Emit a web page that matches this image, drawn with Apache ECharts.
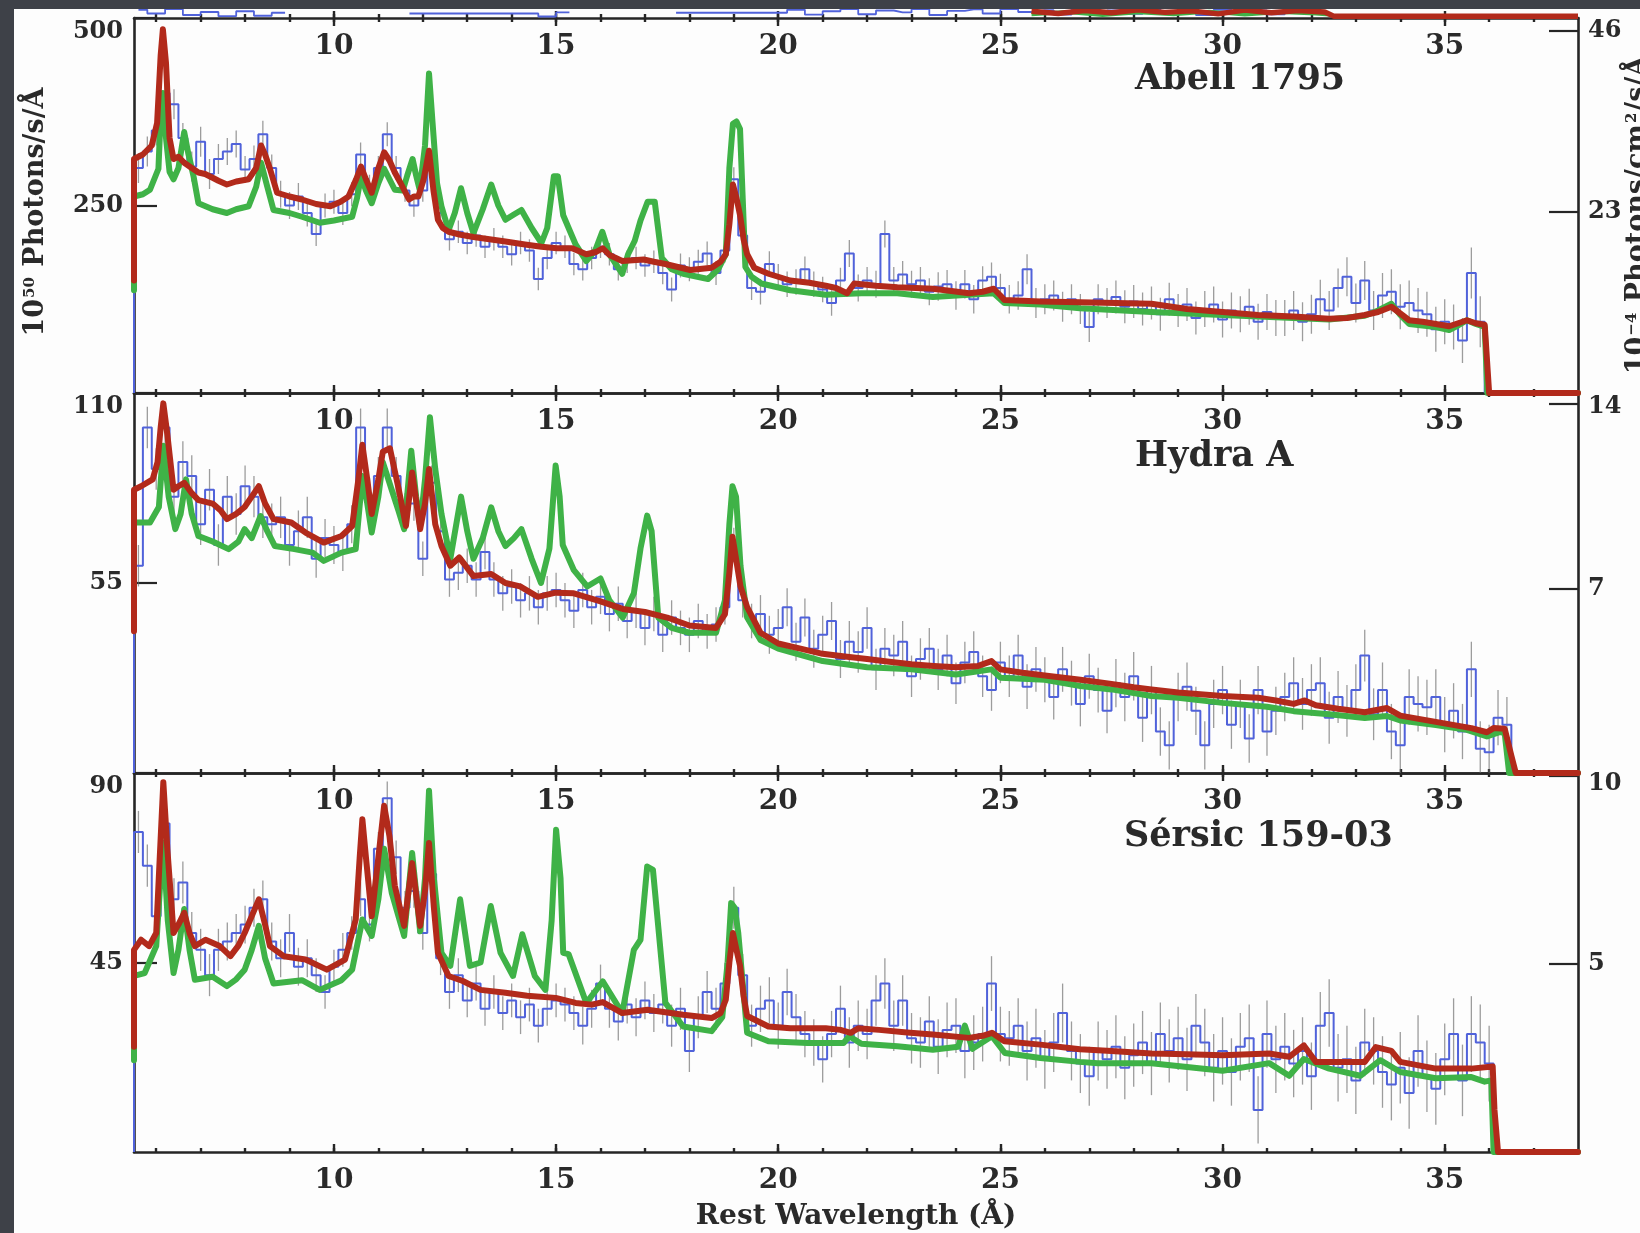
<!DOCTYPE html>
<html><head><meta charset="utf-8">
<script src="https://cdn.jsdelivr.net/npm/echarts/dist/echarts.min.js"></script>
<style>html,body{margin:0;padding:0;background:#3e4148;}#c{width:1640px;height:1233px;}</style>
</head><body><div id="c"></div>
<script>
// ---------------- DATA ----------------
const XMIN = 5.5, XMAX = 38;
const majorTicks = [10, 15, 20, 25, 30, 35];
const minorTicks = [6,7,8,9,10,11,12,13,14,15,16,17,18,19,20,21,22,23,24,25,26,27,28,29,30,31,32,33,34,35,36,37];
const BIN_START = 5.6, BIN_WIDTH = 0.2, ERR_SEG = 2;

// axis ranges / tick labels
const abellLeftMax = 500, abellLeftTicks = [250, 500], abellRightMax = 47.6, abellRightTicks = [23, 46];
const hydraLeftMax = 110, hydraLeftTicks = [55, 110], hydraRightMax = 14.4, hydraRightTicks = [7, 14];
const sersicLeftMax = 90, sersicLeftTicks = [45, 90], sersicRightMax = 10.06, sersicRightTicks = [5, 10];

// ---- Abell 1795 ----
const abellRed = [[5.5,150],[5.5,312],[5.7,318],[5.9,330],[6.02,360],[6.1,450],[6.15,485],[6.22,440],[6.3,340],[6.39,312],[6.5,315],[6.63,307],[6.8,300],[6.95,294],[7.1,292],[7.27,287],[7.4,283],[7.59,278],[7.8,282],[8.08,285],[8.25,300],[8.36,330],[8.45,318],[8.56,299],[8.72,267],[9.0,262],[9.28,258],[9.6,252],[9.92,249],[10.15,255],[10.33,262],[10.5,285],[10.61,302],[10.72,285],[10.85,267],[11.0,300],[11.13,321],[11.25,310],[11.37,294],[11.5,280],[11.69,258],[11.8,262],[11.9,262],[12.02,285],[12.14,323],[12.24,270],[12.34,231],[12.45,220],[12.58,215],[12.85,211],[13.14,208],[13.5,205],[13.86,202],[14.3,198],[14.67,195],[15.02,193],[15.36,193],[15.68,185],[15.9,188],[16.05,193],[16.2,184],[16.49,176],[16.97,178],[17.2,175],[17.46,172],[18.02,164],[18.5,167],[18.7,175],[18.82,185],[18.9,225],[18.98,278],[19.06,260],[19.14,237],[19.22,205],[19.3,185],[19.46,167],[19.78,159],[20.27,150],[20.7,147],[21.07,143],[21.3,140],[21.55,133],[21.71,146],[22.2,143],[22.68,141],[23.1,140],[23.48,139],[23.9,136],[24.29,133],[24.6,135],[24.85,139],[25.0,130],[25.09,124],[25.5,123],[25.9,122],[26.79,121],[27.6,120],[28.4,119],[29.2,112],[30.0,108],[30.8,104],[31.6,102],[32.4,99],[32.8,100],[33.2,104],[33.5,108],[33.8,115],[34.0,106],[34.2,97],[34.5,95],[34.8,92],[35.1,89],[35.3,93],[35.5,97],[35.7,93],[35.9,91],[36.0,0],[38,0]];
const abellGreen = [[5.5,137],[5.5,262],[5.7,265],[5.86,271],[6.05,299],[6.1,370],[6.15,400],[6.22,340],[6.3,295],[6.39,285],[6.5,300],[6.63,348],[6.72,320],[6.84,289],[6.95,253],[7.27,245],[7.59,240],[7.8,245],[8.08,249],[8.25,275],[8.36,307],[8.5,275],[8.64,244],[9.0,240],[9.28,235],[9.68,227],[10.0,230],[10.41,235],[10.52,260],[10.61,289],[10.72,270],[10.85,253],[11.0,280],[11.13,299],[11.25,285],[11.37,271],[11.55,270],[11.65,290],[11.77,312],[11.85,290],[11.93,271],[12.05,330],[12.14,426],[12.22,360],[12.32,280],[12.42,249],[12.58,217],[12.72,240],[12.86,273],[13.0,240],[13.14,213],[13.35,245],[13.54,278],[13.7,250],[13.86,231],[14.05,238],[14.22,244],[14.45,220],[14.67,200],[14.8,220],[14.95,289],[15.04,289],[15.16,237],[15.44,198],[15.68,176],[15.88,190],[16.04,215],[16.2,185],[16.49,159],[16.62,185],[16.77,203],[16.9,230],[17.06,255],[17.22,255],[17.38,180],[17.6,165],[17.86,159],[18.42,152],[18.65,165],[18.82,185],[18.9,300],[18.98,359],[19.06,362],[19.14,352],[19.2,260],[19.26,168],[19.4,155],[19.62,146],[20.27,137],[21.07,131],[21.87,133],[22.68,133],[23.48,128],[24.29,131],[24.85,133],[25.09,120],[25.9,118],[26.79,113],[28.4,108],[30.0,104],[31.6,100],[32.4,98],[33.2,103],[33.5,110],[33.8,119],[34.0,104],[34.2,92],[34.8,88],[35.1,84],[35.3,90],[35.5,97],[35.7,92],[35.9,88],[35.96,0],[38,0]];
const abellBlue = [
  300,322,350,400,385,  340,302,335,292,312,  322,332,298,312,345,  300,265,250,262,240,
  212,250,255,240,265,  318,275,300,345,300,  270,250,270,300,240,  205,215,200,210,195,
  205,195,185,200,190,  152,180,200,195,172,  165,180,195,185,165,  175,180,170,175,160,
  138,170,165,175,186,  160,190,285,210,140,  135,172,155,145,148,  165,145,138,120,150,
  186,140,150,145,212,  150,158,145,150,135,  142,145,130,145,125,  150,155,140,125,130,
  165,120,125,130,115,  125,112,88,125,120,   128,115,122,112,120,  105,125,110,118,100,
  112,118,98,110,105,   115,95,108,100,100,   110,95,105,125,110,   140,155,120,150,110,
  130,135,115,120,110,  105,85,95,88,70,      160,95];
const abellErr = [20,18,16,15,15,15,16,17,18,19,20,22,24,26,30,34];

// ---- Hydra A ----
const hydraRed = [[5.5,41],[5.5,82],[5.66,83],[5.92,85],[6.03,90],[6.1,100],[6.16,107],[6.25,98],[6.39,82],[6.5,83],[6.63,84],[6.8,81],[6.95,79],[7.27,78],[7.45,76],[7.59,73.5],[7.8,75],[7.99,77],[8.15,80],[8.31,83],[8.45,78],[8.64,73.5],[9.04,72.5],[9.36,69.6],[9.77,66.7],[10.17,68.6],[10.41,71.5],[10.55,85],[10.64,95],[10.75,85],[10.85,75],[11.0,85],[11.1,93],[11.26,94],[11.46,82],[11.62,71.5],[11.76,87],[11.94,70.6],[12.05,78],[12.14,88],[12.28,72],[12.42,65.7],[12.62,60],[12.82,62.4],[13.14,57],[13.54,57.6],[13.86,55],[14.19,54],[14.59,51],[14.99,52.2],[15.4,52],[16.0,49.7],[16.5,47.5],[17.0,46.6],[17.5,45],[18.0,42.7],[18.6,42],[18.8,46],[18.9,58],[18.97,68.4],[19.05,62],[19.15,54],[19.3,48],[19.6,40.6],[20.0,37.5],[20.5,36],[21.0,34.5],[21.5,33.7],[22.0,33],[22.5,32.2],[23.0,31.5],[23.5,31],[24.0,30.6],[24.5,31],[24.8,32.4],[25.0,30],[25.5,29],[26.0,28.2],[26.8,27],[27.5,25.8],[28.0,24.8],[28.4,24.2],[29.0,23.3],[30.0,22.3],[30.8,21.8],[31.2,21],[31.6,20],[31.85,21],[32.1,19.6],[32.6,18.6],[33.2,17.6],[33.7,18.8],[34.0,16.6],[34.8,14.8],[35.6,13],[35.95,11.8],[36.1,13],[36.35,12.8],[36.5,5],[36.6,0],[38,0]];
const hydraGreen = [[5.5,60],[5.5,72.5],[5.86,72.5],[6.06,77],[6.16,94.7],[6.28,80],[6.43,70.6],[6.55,75],[6.67,85],[6.8,75],[6.95,68.6],[7.27,67],[7.63,64.8],[7.85,67],[7.99,70.6],[8.15,68],[8.35,74.4],[8.5,70],[8.67,65.7],[9.11,64.8],[9.52,63.8],[9.77,61.4],[10.17,63.8],[10.49,64.8],[10.64,86],[10.75,78],[10.85,69.6],[11.0,80],[11.1,90],[11.3,82],[11.45,76],[11.58,70.6],[11.74,93.3],[11.85,80],[11.94,71.5],[12.05,85],[12.16,103],[12.28,88],[12.42,75],[12.62,62],[12.86,80],[13.0,70],[13.14,62],[13.35,68],[13.54,76.9],[13.7,70],[13.86,65.7],[14.05,68],[14.22,70.6],[14.45,62],[14.66,55],[14.85,65],[14.99,89],[15.08,80],[15.15,66],[15.4,58.7],[15.7,54],[16.0,56.3],[16.2,50],[16.5,45],[16.75,52],[16.9,65],[17.05,74.5],[17.15,70],[17.3,45],[17.6,42],[18.0,40.6],[18.6,40.6],[18.8,50],[18.9,72],[18.97,83],[19.05,80],[19.15,60],[19.3,45],[19.6,38.5],[20.0,36],[21.0,32.4],[22.0,30.6],[23.0,30],[24.0,28.5],[24.8,30],[25.0,27.6],[26.0,27],[26.8,25.2],[27.5,24.2],[28.4,22.3],[29.0,21.8],[30.0,20.3],[31.0,19.2],[31.6,17.9],[32.4,17],[33.2,15.9],[33.7,16.5],[34.0,15.2],[34.8,13.9],[35.5,12.5],[35.95,10.6],[36.25,11.9],[36.35,11.5],[36.45,0],[38,0]];
const hydraBlue = [
  60,100,88,100,80,  90,86,72,82,66,  80,75,83,80,74,  72,74,66,70,74,
  62,68,66,64,72,    100,80,86,100,86, 76,78,62,84,70, 56,58,60,56,64,
  56,52,54,50,52,    48,52,53,50,47,  53,48,51,46,49,  44,47,42,46,40,
  45,42,40,44,41,    43,48,66,50,44,  46,40,42,48,38,  45,36,40,44,33,
  38,35,42,30,36,    34,38,28,33,36,  30,34,26,32,35,  28,24,32,28,34,
  25,30,27,22,30,    26,20,28,24,18,  26,22,28,16,24,  12,8,22,25,18,
  8,20,24,14,20,     10,24,12,18,22,  26,20,24,26,16,  22,18,24,34,17,
  24,12,8,22,20,     19,22,14,18,12,  30,7,6,16,14];
const hydraErr = [6,6,5.5,5,5,5,5,5.5,6,6,6.5,7,7,7.5,8,8];

// ---- Sersic 159-03 ----
const sersicRed = [[5.5,25],[5.5,48],[5.66,50.4],[5.84,48.9],[6.0,52],[6.08,70],[6.16,87.8],[6.25,72],[6.39,52],[6.5,54],[6.63,56.8],[6.75,52],[6.87,48.9],[7.11,50.4],[7.43,48.9],[7.67,46.5],[7.85,49],[7.99,52],[8.15,56],[8.31,60],[8.45,54],[8.56,48.9],[8.87,46.5],[9.36,45.7],[9.84,43.3],[10.25,45.7],[10.49,55.2],[10.58,70],[10.64,79],[10.72,70],[10.85,56],[11.0,70],[11.13,82.2],[11.25,75],[11.37,63.2],[11.58,53.7],[11.76,68.6],[11.94,53.7],[12.05,62],[12.14,73.4],[12.25,58],[12.34,47.3],[12.58,41.8],[12.9,40.6],[13.3,38.5],[13.86,37.8],[14.35,37.1],[14.99,36.6],[15.44,35.4],[15.8,35],[16.05,35.6],[16.49,33],[17.06,33.8],[17.86,32.6],[18.5,31.8],[18.7,33],[18.82,36.2],[18.9,45],[18.98,52],[19.06,48],[19.14,44.2],[19.22,37],[19.3,32.3],[19.78,29.8],[20.27,29.4],[21.07,29.4],[21.4,29],[21.63,28.3],[21.8,29.4],[22.27,29],[22.9,28.4],[23.48,27.9],[24.29,27.1],[24.6,27.6],[24.81,28.3],[25.09,26.3],[25.9,25.5],[26.79,24.4],[27.5,24],[28.4,23.4],[29.2,23.2],[30.0,23.0],[31.05,23.4],[31.5,22.6],[31.83,25.3],[32.1,21.4],[33.2,21.4],[33.45,24.9],[33.8,24],[34.0,21.4],[34.8,19.8],[35.6,19.8],[36.08,20.3],[36.12,10],[36.2,0],[38,0]];
const sersicGreen = [[5.5,21.8],[5.5,41.8],[5.74,42.5],[6.0,48.9],[6.08,62],[6.16,73.5],[6.26,55],[6.39,42.5],[6.5,48],[6.63,57.7],[6.75,48],[6.87,40.9],[7.27,41.6],[7.59,39.4],[7.8,41],[7.99,43.3],[8.15,48],[8.31,53.7],[8.45,46],[8.64,40],[9.28,40.8],[9.68,38.5],[10.17,40.8],[10.41,43.3],[10.64,55.2],[10.85,51.3],[11.0,60],[11.13,72],[11.3,61.6],[11.58,51.3],[11.76,71],[11.94,52.4],[12.05,65],[12.14,85.8],[12.25,65],[12.42,47.3],[12.62,44.2],[12.84,60],[13.06,44.2],[13.3,45],[13.53,58.4],[13.75,47.3],[14.03,41.8],[14.24,51.7],[14.52,41.8],[14.76,38.5],[14.9,55],[15.0,76.5],[15.1,65],[15.16,47.3],[15.28,47],[15.68,35.4],[16.05,40.5],[16.49,33],[16.75,48],[16.9,50.4],[17.05,67.8],[17.18,67],[17.46,35.4],[17.86,29.8],[18.5,28.7],[18.74,32],[18.86,45],[18.94,59.1],[19.02,58],[19.1,52],[19.3,28.3],[19.78,26.3],[20.66,25.9],[21.47,25.9],[21.6,27.5],[21.87,25.7],[22.68,25.1],[23.48,24.3],[24.05,25],[24.2,30],[24.37,24.5],[24.81,27.5],[25.1,23.5],[25.9,22.3],[26.79,21.4],[27.19,21.1],[28.4,21.1],[30.0,19.3],[31.05,21.1],[31.5,18.1],[31.83,22.1],[32.4,19.8],[33.1,18.1],[33.55,21.8],[34.0,19],[34.8,17.5],[35.6,17.8],[35.9,16.7],[36.05,17],[36.1,0],[38,0]];
const sersicBlue = [
  76,68,56,78,60,  64,52,48,42,48,  50,52,54,58,60,  50,46,52,44,46,
  42,38,44,48,52,  60,54,72,84,70,  58,62,52,66,46,  38,42,36,40,34,
  38,33,36,32,35,  30,34,36,35,33,  30,34,40,34,31,  35,32,36,33,35,
  30,34,24,32,38,  34,40,58,42,30,  34,36,30,38,32,  28,26,22,28,34,
  26,30,28,36,40,  30,36,27,26,31,  25,29,30,24,26,  28,40,28,27,30,
  24,27,22,26,33,  24,21,18,24,22,  25,20,23,26,21,  28,24,27,22,30,
  26,20,24,19,25,  27,10,28,22,25,  21,24,18,30,33,  20,22,17,26,24,
  19,16,20,14,24,  18,15,22,28,17,  28,26,21];
const sersicErr = [5,4.5,4,4,4,4.5,5,5.5,6,6.5,7,7.5,8,8,8.5,9];

// ---- bottom edge of a panel above, cut off by the slide edge (values = height above the top frame) ----
const ghostRed = [[25.7,1.8],[26.3,1.2],[26.9,2.0],[27.5,1.4],[28.1,2.2],[28.7,1.5],[29.3,1.9],[29.9,1.1],[30.5,2.1],[31.1,1.4],[31.7,2.0],[32.3,1.6],[32.5,0.5],[38,0.5]];
const ghostGreen = [[25.7,1.0],[26.5,1.6],[27.3,0.8],[28.1,1.5],[28.9,1.0],[29.7,1.7],[30.5,0.9],[31.3,1.6],[32.1,1.2],[32.4,0.9]];
const ghostBlue = [[5.6,2.2],[6.0,1.2],[6.4,2.4],[6.8,0.8],[7.2,1.6],[7.6,0.5],[8.0,1.8],[8.4,0.6],[8.8,1.4],[9.0,'-'],[14.4,1.2],[14.8,0.4],[15.2,1.5],[15.4,'-'],[20.0,1.4],[20.4,2.2],[20.8,0.9],[21.2,1.8],[21.6,2.4],[22.0,1.0],[22.4,2.0],[22.8,1.5],[23.2,2.4],[23.6,0.8],[24.0,1.9],[24.4,2.3],[24.8,1.2],[25.2,2.4],[25.6,1.6],[26.0,2.1],[26.4,0.9],[26.8,2.3],[27.2,1.4],[27.6,2.0],[28.0,1.1],[28.4,2.4],[28.8,1.3],[29.2,1.9],[29.6,0.8],[30.0,2.2],[30.4,1.5],[30.8,2.0],[31.2,1.0],[31.6,2.3],[32.0,1.2]];

// ---------------- STYLE / LAYOUT ----------------
const FONT = '"DejaVu Serif", "Liberation Serif", serif';
const TXT = '#2a2a2a', AX = '#262626';
const RED = '#b22a1b', GREEN = '#3fb247', BLUE = '#5062da', ERRC = 'rgba(105,105,105,0.65)';
const PLOT_LEFT = 134, PLOT_W = 1444;

const panels = [
  {top:18,  h:375, lMax:abellLeftMax,  lTicks:abellLeftTicks,  rMax:abellRightMax,  rTicks:abellRightTicks,  rShift:0,
   red:abellRed, green:abellGreen, blue:abellBlue, err:abellErr, title:'Abell 1795', tx:1135, ty:80},
  {top:393, h:380, lMax:hydraLeftMax,  lTicks:hydraLeftTicks,  rMax:hydraRightMax,  rTicks:hydraRightTicks,  rShift:6,
   red:hydraRed, green:hydraGreen, blue:hydraBlue, err:hydraErr, title:'Hydra A', tx:1135, ty:457},
  {top:773, h:379, lMax:sersicLeftMax, lTicks:sersicLeftTicks, rMax:sersicRightMax, rTicks:sersicRightTicks, rShift:18,
   red:sersicRed, green:sersicGreen, blue:sersicBlue, err:sersicErr, title:'Sérsic 159-03', tx:1124, ty:837}
];

const r2 = v => Math.round(v * 100) / 100;
function blueData(vals) {
  const d = [[XMIN, 0], [XMIN, vals[0]]];
  vals.forEach((v, i) => d.push([r2(BIN_START + i * BIN_WIDTH), v]));
  const endX = r2(BIN_START + (vals.length - 1) * BIN_WIDTH + BIN_WIDTH / 2);
  d.push([endX, vals[vals.length - 1]]);
  d.push([endX, 0]);
  return d;
}
function errData(vals, errs) {
  return vals.map((v, i) => {
    const x = r2(BIN_START + i * BIN_WIDTH);
    const e = errs[Math.min(errs.length - 1, Math.floor((x - XMIN) / ERR_SEG))];
    return [x, Math.max(0, v - e), v + e];
  });
}

const labelFont = {fontFamily: FONT, fontWeight: 'bold', color: TXT};
function xAx(grid, position, ticks, len, showLine, label, inside) {
  return {type: 'value', gridIndex: grid, position, min: XMIN, max: XMAX,
    axisLine: {show: showLine, onZero: false, lineStyle: {color: AX, width: 2.6}},
    axisTick: {show: true, inside: inside !== false, length: len, customValues: ticks, lineStyle: {color: AX, width: 2.4}},
    axisLabel: label || {show: false},
    splitLine: {show: false}, minorTick: {show: false}, axisPointer: {show: false}};
}
function majorLabel(inside) {
  return Object.assign({show: true, inside, margin: 15, customValues: majorTicks, fontSize: 28}, labelFont);
}
function yAx(grid, position, max, ticks, len, shiftTop) {
  const rs = Object.assign({fontSize: 24}, labelFont);
  return {type: 'value', gridIndex: grid, position, min: 0, max,
    axisLine: {show: true, onZero: false, lineStyle: {color: AX, width: 2.6}},
    axisTick: {show: true, inside: true, length: len, customValues: ticks, lineStyle: {color: AX, width: 2.2}},
    axisLabel: Object.assign({show: true, customValues: ticks, margin: position === 'left' ? 11 : 10, fontSize: 24,
      formatter: v => (shiftTop && v === ticks[1]) ? '{t|' + v + '}' : '{m|' + v + '}',
      rich: {t: Object.assign({padding: [shiftTop, 0, 0, 0]}, rs), m: rs}}, labelFont),
    splitLine: {show: false}};
}

const grids = [], xAxes = [], yAxes = [], series = [];
panels.forEach((p, i) => {
  grids.push({left: PLOT_LEFT, width: PLOT_W, top: p.top, height: p.h});
  const last = i === panels.length - 1;
  xAxes.push(xAx(i, 'bottom', majorTicks, 8, true, last ? majorLabel(false) : null));
  xAxes.push(xAx(i, 'bottom', minorTicks, 4, false, null));
  xAxes.push(xAx(i, 'top', majorTicks, 8, true, majorLabel(true)));
  xAxes.push(xAx(i, 'top', minorTicks, 4, false, null));
  yAxes.push(yAx(i, 'left', p.lMax, p.lTicks, 23, 28));
  yAxes.push(yAx(i, 'right', p.rMax, p.rTicks, 29, p.rShift));
  const xi = 4 * i, yi = 2 * i;
  series.push({type: 'custom', xAxisIndex: xi, yAxisIndex: yi, silent: true, z: 1,
    renderItem: (params, api) => {
      const a = api.coord([api.value(0), api.value(1)]), b = api.coord([api.value(0), api.value(2)]);
      return {type: 'line', shape: {x1: a[0], y1: a[1], x2: b[0], y2: b[1]}, style: {stroke: ERRC, lineWidth: 1.3}};
    },
    encode: {x: 0, y: [1, 2]}, data: errData(p.blue, p.err)});
  series.push({type: 'line', xAxisIndex: xi, yAxisIndex: yi, step: 'middle', showSymbol: false, symbol: 'none', z: 2, clip: false,
    lineStyle: {color: BLUE, width: 2}, data: blueData(p.blue)});
  series.push({type: 'line', xAxisIndex: xi, yAxisIndex: yi, showSymbol: false, symbol: 'none', z: 3, clip: false,
    lineStyle: {color: GREEN, width: 6, cap: 'round', join: 'round'}, data: p.green});
  series.push({type: 'line', xAxisIndex: xi, yAxisIndex: yi, showSymbol: false, symbol: 'none', z: 4, clip: false,
    lineStyle: {color: RED, width: 6, cap: 'round', join: 'round'}, data: p.red});
});
// outward ticks on the top frame of the first panel
xAxes.push(xAx(0, 'top', majorTicks, 7, false, null, false));
xAxes.push(xAx(0, 'top', minorTicks, 4, false, null, false));
// hidden axis on the first panel: 0 at the top frame, values above it go upward (cut-off panel above)
yAxes.push({type: 'value', gridIndex: 0, min: -100, max: 0, show: false});
const ghostY = yAxes.length - 1;
series.push({type: 'line', xAxisIndex: 0, yAxisIndex: ghostY, step: 'middle', showSymbol: false, symbol: 'none', z: 2, clip: false,
  lineStyle: {color: BLUE, width: 1.8}, data: ghostBlue});
series.push({type: 'line', xAxisIndex: 0, yAxisIndex: ghostY, showSymbol: false, symbol: 'none', z: 3, clip: false,
  lineStyle: {color: GREEN, width: 4}, data: ghostGreen});
series.push({type: 'line', xAxisIndex: 0, yAxisIndex: ghostY, showSymbol: false, symbol: 'none', z: 4, clip: false,
  lineStyle: {color: RED, width: 5.5}, data: ghostRed});

const graphic = [
  {type: 'rect', z: 100, shape: {x: 0, y: 0, width: 1640, height: 9}, style: {fill: '#3e4148'}},
  {type: 'rect', z: 100, shape: {x: 0, y: 0, width: 14, height: 1233}, style: {fill: '#3e4148'}},
  {type: 'text', z: 50, x: 36, y: 212, rotation: Math.PI / 2,
    style: {text: '{b|10}{s|50}{b| Photons/s/Å}', textAlign: 'center', align: 'center', textVerticalAlign: 'middle', verticalAlign: 'middle',
      rich: {b: {font: 'bold 27px ' + FONT, fill: TXT, color: TXT}, s: {font: 'bold 15px ' + FONT, fill: TXT, color: TXT, verticalAlign: 'top', padding: [0, 1, 10, 1]}}}},
  {type: 'text', z: 50, x: 1638, y: 215, rotation: Math.PI / 2,
    style: {text: '{b|10}{s|−4}{b| Photons/cm}{s|2}{b|/s/Å}', textAlign: 'center', align: 'center', textVerticalAlign: 'middle', verticalAlign: 'middle',
      rich: {b: {font: 'bold 27px ' + FONT, fill: TXT, color: TXT}, s: {font: 'bold 15px ' + FONT, fill: TXT, color: TXT, verticalAlign: 'top', padding: [0, 1, 10, 1]}}}},
  {type: 'text', z: 50, x: 856, y: 1217,
    style: {text: 'Rest Wavelength (Å)', font: 'bold 28px ' + FONT, fill: TXT, textAlign: 'center', align: 'center', textVerticalAlign: 'middle', verticalAlign: 'middle'}}
];
panels.forEach(p => graphic.push({type: 'text', z: 50, x: p.tx, y: p.ty,
  style: {text: p.title, font: 'bold 35px ' + FONT, fill: TXT, textAlign: 'left', align: 'left', textVerticalAlign: 'middle', verticalAlign: 'middle'}}));

const chart = echarts.init(document.getElementById('c'), null, {renderer: 'canvas'});
chart.setOption({backgroundColor: '#fdfdfd', animation: false, grid: grids, xAxis: xAxes, yAxis: yAxes, series, graphic});
</script></body></html>
